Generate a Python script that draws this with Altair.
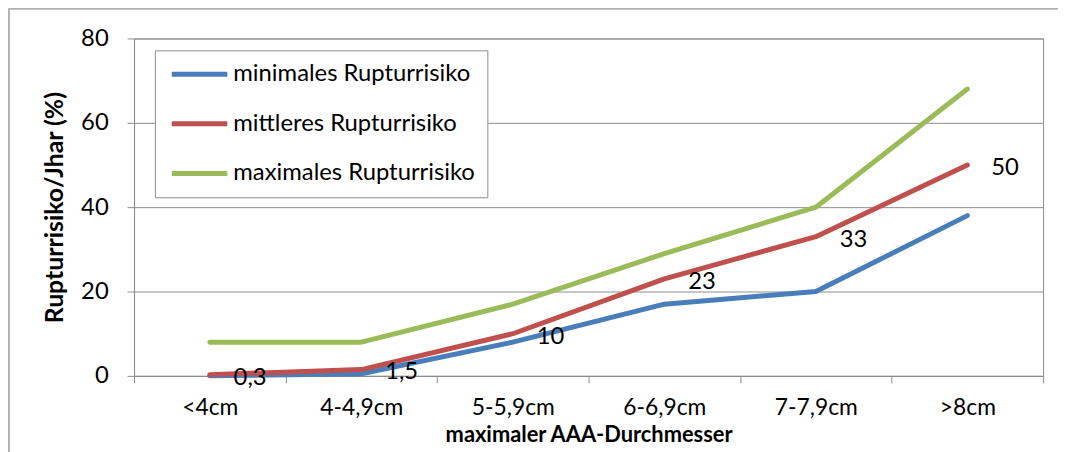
import altair as alt
import pandas as pd

categories = ["<4cm", "4-4,9cm", "5-5,9cm", "6-6,9cm", "7-7,9cm", ">8cm"]
series_names = ["minimales Rupturrisiko", "mittleres Rupturrisiko", "maximales Rupturrisiko"]
min_values = [0, 0.5, 8, 17, 20, 38]
mid_values = [0.3, 1.5, 10, 23, 33, 50]
max_values = [8, 8, 17, 29, 40, 68]
mid_labels = ["0,3", "1,5", "10", "23", "33", "50"]
colors = ["#4A7EBB", "#C0504D", "#9BBB59"]

rows = []
for name, vals in zip(series_names, [min_values, mid_values, max_values]):
    for c, v in zip(categories, vals):
        rows.append({"cat": c, "value": v, "series": name})
df = pd.DataFrame(rows)
lab_df = pd.DataFrame({"cat": categories, "value": mid_values, "label": mid_labels})

FONT = "Lato"
GRAY = "#8c8c8c"
FS = 24

x_enc = alt.X("cat:N", sort=categories,
              scale=alt.Scale(type="band", paddingInner=0, paddingOuter=0),
              axis=alt.Axis(title="maximaler AAA-Durchmesser", labelAngle=0,
                            tickBand="extent", tickSize=7, labelPadding=14,
                            labelFontSize=23, titlePadding=5, titleFontSize=22,
                            grid=False))
y_enc = alt.Y("value:Q", scale=alt.Scale(domain=[0, 80], nice=False),
              axis=alt.Axis(title="Rupturrisiko/Jhar (%)", values=[0, 20, 40, 60, 80],
                            tickSize=7, labelPadding=19, titlePadding=13,
                            titleFontSize=25))

lines = alt.Chart(df).mark_line(strokeWidth=5, strokeCap="round", strokeJoin="round").encode(
    x=x_enc,
    y=y_enc,
    color=alt.Color("series:N", sort=series_names,
                    scale=alt.Scale(domain=series_names, range=colors),
                    legend=alt.Legend(title=None, orient="none", legendX=21, legendY=12,
                                      symbolType="M-1,0H7", symbolStrokeWidth=5,
                                      symbolSize=196, labelFontSize=FS, labelFont=FONT,
                                      rowPadding=26, padding=12, strokeColor=GRAY,
                                      fillColor="white", labelOffset=43, labelLimit=400)),
    detail="series:N",
)

labels = alt.Chart(lab_df).mark_text(align="left", baseline="middle", dx=24, dy=3,
                                     fontSize=FS, font=FONT, color="black").encode(
    x=alt.X("cat:N", sort=categories,
            scale=alt.Scale(type="band", paddingInner=0, paddingOuter=0)),
    y=alt.Y("value:Q"),
    text="label:N",
)

frame_left = alt.Chart(lab_df).mark_rule(color="#b0b0b0", strokeWidth=1).encode(
    x=alt.value(-126), y=alt.value(-30), y2=alt.value(420))
frame_top = alt.Chart(lab_df).mark_rule(color="#b0b0b0", strokeWidth=1).encode(
    x=alt.value(-126), x2=alt.value(935), y=alt.value(-30))

chart = alt.layer(frame_left, frame_top, lines, labels).properties(
    width=916, height=340,
    autosize=alt.AutoSizeParams(type="none"),
    padding={"left": 127, "top": 29, "right": 15, "bottom": 75},
).configure_view(stroke=GRAY, strokeWidth=1).configure_axis(
    labelFont=FONT, titleFont=FONT, labelFontSize=FS, titleFontSize=FS,
    titleFontWeight="bold", labelColor="black", titleColor="black",
    domainColor=GRAY, tickColor=GRAY, gridColor=GRAY, gridWidth=1,
)

chart.save("out.html", embed_options={"renderer": "svg", "actions": False})
